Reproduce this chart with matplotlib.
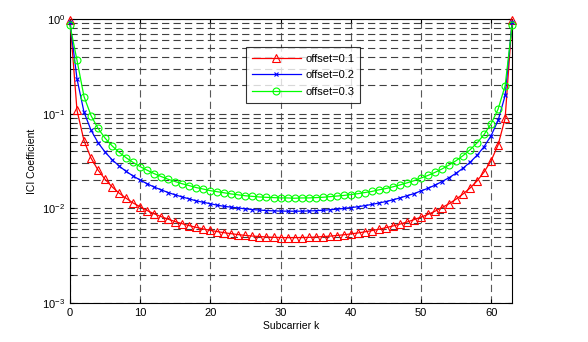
"""ICI coefficient vs. subcarrier index for three frequency offsets (log scale)."""

import matplotlib
matplotlib.use("Agg")
import matplotlib.pyplot as plt
import numpy as np

# subcarrier index
subcarrier = list(range(64))

# ICI coefficient, offset = 0.1
ici_01 = [
    0.984, 0.109, 0.0519, 0.0340, 0.0254, 0.0203, 0.0169, 0.0145,
    0.0128, 0.0114, 0.0104, 0.00948, 0.00877, 0.00818, 0.00768, 0.00725,
    0.00689, 0.00657, 0.00630, 0.00606, 0.00586, 0.00568, 0.00553, 0.00540,
    0.00528, 0.00518, 0.00510, 0.00504, 0.00499, 0.00495, 0.00492, 0.00491,
    0.00491, 0.00492, 0.00494, 0.00498, 0.00503, 0.00509, 0.00517, 0.00526,
    0.00537, 0.00550, 0.00565, 0.00582, 0.00602, 0.00625, 0.00651, 0.00682,
    0.00717, 0.00759, 0.00807, 0.00864, 0.00933, 0.0102, 0.0112, 0.0125,
    0.0142, 0.0164, 0.0195, 0.0242, 0.0319, 0.0469, 0.0895, 0.984,
]

# offset = 0.2
ici_02 = [
    0.936, 0.234, 0.104, 0.0670, 0.0495, 0.0394, 0.0327, 0.0281,
    0.0246, 0.0220, 0.0199, 0.0182, 0.0168, 0.0157, 0.0147, 0.0139,
    0.0132, 0.0126, 0.0120, 0.0116, 0.0112, 0.0108, 0.0105, 0.0103,
    0.0101, 0.00988, 0.00972, 0.00959, 0.00949, 0.00942, 0.00936, 0.00934,
    0.00933, 0.00935, 0.00939, 0.00946, 0.00955, 0.00967, 0.00981, 0.00998,
    0.0102, 0.0104, 0.0107, 0.0110, 0.0114, 0.0118, 0.0123, 0.0129,
    0.0136, 0.0143, 0.0153, 0.0163, 0.0176, 0.0192, 0.0211, 0.0235,
    0.0266, 0.0307, 0.0364, 0.0449, 0.0587, 0.0852, 0.156, 0.936,
]

# offset = 0.3
ici_03 = [
    0.859, 0.368, 0.152, 0.0957, 0.0700, 0.0553, 0.0458, 0.0392,
    0.0343, 0.0306, 0.0276, 0.0253, 0.0233, 0.0217, 0.0203, 0.0192,
    0.0182, 0.0174, 0.0166, 0.0160, 0.0154, 0.0150, 0.0146, 0.0142,
    0.0139, 0.0136, 0.0134, 0.0132, 0.0131, 0.0130, 0.0129, 0.0129,
    0.0128, 0.0129, 0.0129, 0.0130, 0.0131, 0.0133, 0.0135, 0.0137,
    0.0140, 0.0143, 0.0147, 0.0151, 0.0157, 0.0162, 0.0169, 0.0177,
    0.0186, 0.0196, 0.0209, 0.0223, 0.0240, 0.0261, 0.0287, 0.0319,
    0.0361, 0.0416, 0.0492, 0.0604, 0.0784, 0.112, 0.198, 0.859,
]

labels = ["offset=0.1", "offset=0.2", "offset=0.3"]
x_ticks = [0, 10, 20, 30, 40, 50, 60]

plt.rcParams["font.family"] = ["Liberation Sans", "DejaVu Sans"]
plt.rcParams["mathtext.fontset"] = "custom"
plt.rcParams["mathtext.rm"] = "Liberation Sans"

fig = plt.figure(figsize=(5.88, 3.42), dpi=100)
ax = fig.add_axes([0.119, 0.114, 0.752, 0.830])

ax.plot(subcarrier, ici_01, color="#ff0000", lw=0.9, marker="^", ms=6,
        mfc="none", mew=0.8, label=labels[0], clip_on=False, zorder=3)
ax.plot(subcarrier, ici_02, color="#0000ff", lw=0.9, marker="x", ms=3,
        mew=0.8, label=labels[1], clip_on=False, zorder=3)
ax.plot(subcarrier, ici_03, color="#00ff00", lw=0.9, marker="o", ms=5,
        mfc="none", mew=0.8, label=labels[2], clip_on=False, zorder=3)

ax.set_yscale("log")
ax.set_ylim(1e-3, 1)
ax.set_xlim(0, 63)
ax.set_xticks(x_ticks)

dash = (0, (6.5, 3.8))
ax.grid(True, which="both", axis="y", color="0.25", linestyle=dash, lw=0.8)
ax.grid(True, which="major", axis="x", color="0.35", linestyle=dash, lw=0.8)

ax.tick_params(which="both", direction="in", top=True, right=True, labelsize=8)
ax.tick_params(which="major", length=3)
ax.tick_params(which="minor", length=2)
for s in ax.spines.values():
    s.set_linewidth(0.8)

ax.set_xlabel("Subcarrier k", fontsize=7.5, labelpad=2)
ax.set_ylabel("ICI Coefficient", fontsize=7.5, labelpad=4)

leg = ax.legend(loc="upper left", bbox_to_anchor=(0.385, 0.92), fontsize=8,
                frameon=True, fancybox=False, edgecolor="black",
                borderpad=0.55, handlelength=4.4, handletextpad=0.4,
                labelspacing=0.6)
leg.get_frame().set_linewidth(0.8)
leg.set_zorder(5)

fig.savefig("out.png", dpi=100, facecolor="white")
